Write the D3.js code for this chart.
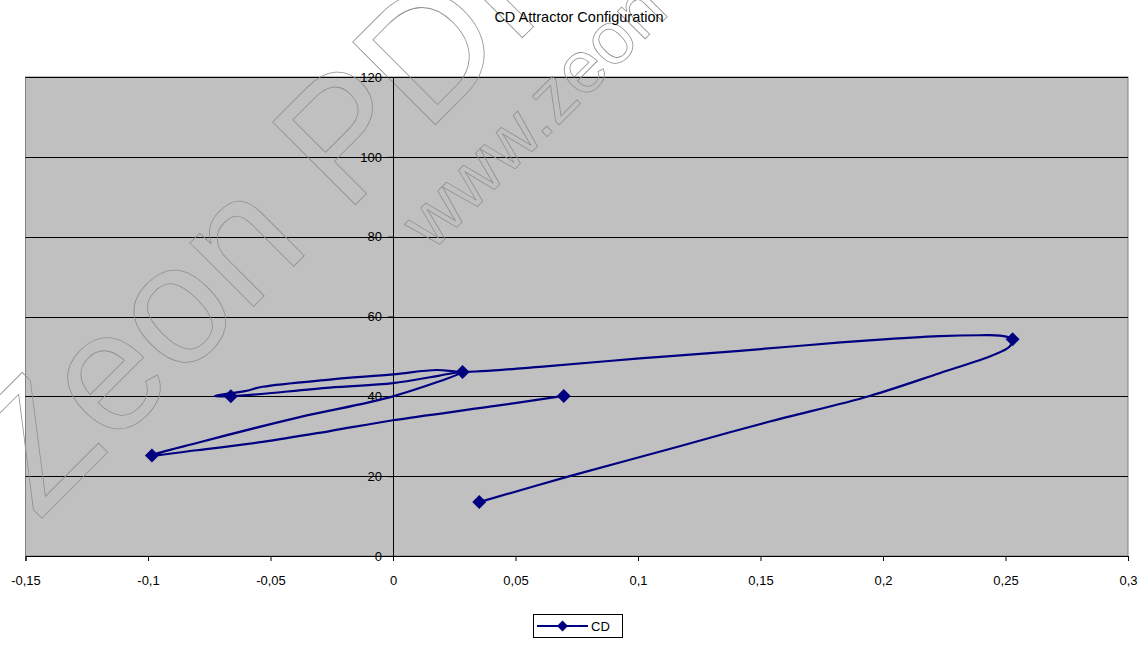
<!DOCTYPE html>
<html>
<head>
<meta charset="utf-8">
<script src="https://cdn.jsdelivr.net/npm/d3@7"></script>
<style>
  body { margin: 0; background: #fff; }
  svg text { font-family: "Liberation Sans", Arial, sans-serif; }
</style>
</head>
<body>
<div id="chart"></div>
<script>
// CD trajectory (x, y pairs in order)
var cdX = [0.0352, 0.0721, 0.117, 0.1538, 0.1946, 0.2231, 0.2448, 0.2517, 0.2529,
    0.2477, 0.2395, 0.2231, 0.1958, 0.1688, 0.1415, 0.1007, 0.0599, 0.0284,
    0.0178, 0.0, -0.0258, -0.0532, -0.0605, -0.0728, -0.0662,
    -0.0258, 0.0, 0.019, 0.0284,
    0.0, -0.0381, -0.0789, -0.0984,
    -0.0801, -0.0532, -0.0258, 0.0, 0.0395, 0.0697]
var cdY = [13.5, 20.0, 27.5, 33.7, 40.1, 45.8, 50.3, 52.5, 54.3,
    55.2, 55.3, 55.1, 54.1, 52.8, 51.4, 49.5, 47.4, 46.1,
    46.6, 45.5, 44.2, 42.4, 41.3, 40.1, 40.0,
    42.2, 43.3, 45.2, 46.1,
    40.0, 34.8, 28.5, 25.2,
    26.5, 28.6, 31.3, 34.0, 37.4, 40.1]

// points that carry a marker
var markerX = [0.0352, 0.2529, 0.0284, -0.0662, -0.0984, 0.0697]
var markerY = [13.5, 54.3, 46.1, 40.0, 25.2, 40.1]

var xTicks = [-0.15, -0.1, -0.05, 0, 0.05, 0.1, 0.15, 0.2, 0.25, 0.3]
var yTicks = [0, 20, 40, 60, 80, 100, 120]

var title = 'CD Attractor Configuration'
var seriesName = 'CD'

var width = 1148, height = 646
var plotLeft = 25.5, plotRight = 1128, plotTop = 77, plotBottom = 556
var navy = '#000080'

var svg = d3.select('#chart')
    .append('svg')
    .attr('width', width)
    .attr('height', height)

var x = d3.scaleLinear().domain([-0.15, 0.3]).range([plotLeft, plotRight])
var y = d3.scaleLinear().domain([0, 120]).range([plotBottom, plotTop])

// plot area
svg.append('rect')
    .attr('x', plotLeft)
    .attr('y', plotTop)
    .attr('width', plotRight - plotLeft)
    .attr('height', plotBottom - plotTop)
    .attr('fill', '#c0c0c0')
    .attr('stroke', '#808080')
    .attr('stroke-width', 1)

// horizontal gridlines
svg.append('g')
    .selectAll('line')
    .data(yTicks.filter(function(d) { return d > 0 }))
    .enter()
    .append('line')
    .attr('x1', plotLeft)
    .attr('x2', plotRight)
    .attr('y1', function(d) { return Math.round(y(d)) + 0.5 })
    .attr('y2', function(d) { return Math.round(y(d)) + 0.5 })
    .attr('stroke', '#000')
    .attr('stroke-width', 1)

// watermark (outlined text)
var wm = svg.append('g')
    .attr('fill', 'none')
    .attr('stroke', '#909090')
    .attr('stroke-width', 0.8)
wm.append('text')
    .attr('transform', 'translate(38,522) rotate(-45)')
    .style('font-size', '170px')
    .text('Zeon PDF')
wm.append('text')
    .attr('transform', 'translate(432,252) rotate(-45)')
    .style('font-size', '74px')
    .text('www.zeon')

var fmt = function(d) { return String(+d.toFixed(2)).replace('.', ',') }

// x axis along the bottom
var xAxis = svg.append('g')
    .attr('transform', 'translate(0,' + plotBottom + ')')
    .call(d3.axisBottom(x).tickValues(xTicks).tickFormat(fmt).tickSize(5).tickPadding(15))
xAxis.select('.domain').attr('stroke', '#000')
xAxis.selectAll('line').attr('stroke', '#000')
xAxis.selectAll('text').style('font-size', '13px').attr('fill', '#000')

// y axis crossing at x = 0
var yAxis = svg.append('g')
    .attr('transform', 'translate(' + x(0) + ',0)')
    .call(d3.axisLeft(y).tickValues(yTicks).tickSize(5).tickPadding(6))
yAxis.select('.domain').attr('stroke', '#000')
yAxis.selectAll('line').attr('stroke', '#000')
yAxis.selectAll('text').style('font-size', '13px').attr('fill', '#000')

// series line
var pts = cdX.map(function(d, i) { return [d, cdY[i]] })
var line = d3.line()
    .x(function(d) { return x(d[0]) })
    .y(function(d) { return y(d[1]) })
    .curve(d3.curveCatmullRom.alpha(0.5))

svg.append('path')
    .datum(pts)
    .attr('d', line)
    .attr('fill', 'none')
    .attr('stroke', navy)
    .attr('stroke-width', 2.2)
    .attr('stroke-linejoin', 'round')

var diamond = 'M0,-7L7,0L0,7L-7,0Z'

svg.append('g')
    .selectAll('path')
    .data(markerX)
    .enter()
    .append('path')
    .attr('d', diamond)
    .attr('transform', function(d, i) {
        return 'translate(' + x(d) + ',' + y(markerY[i]) + ')'
    })
    .attr('fill', navy)

// title
svg.append('text')
    .attr('x', 579)
    .attr('y', 17)
    .attr('text-anchor', 'middle')
    .attr('dominant-baseline', 'central')
    .style('font-size', '14.5px')
    .text(title)

// legend
var lg = svg.append('g').attr('transform', 'translate(533,614)')
lg.append('rect')
    .attr('x', 0.5)
    .attr('y', 0.5)
    .attr('width', 89)
    .attr('height', 23)
    .attr('fill', '#fff')
    .attr('stroke', '#000')
lg.append('line')
    .attr('x1', 4)
    .attr('x2', 55)
    .attr('y1', 12)
    .attr('y2', 12)
    .attr('stroke', navy)
    .attr('stroke-width', 2.2)
lg.append('path')
    .attr('d', 'M0,-5.5L5.5,0L0,5.5L-5.5,0Z')
    .attr('transform', 'translate(29.5,12)')
    .attr('fill', navy)
lg.append('text')
    .attr('x', 58)
    .attr('y', 12)
    .attr('dominant-baseline', 'central')
    .style('font-size', '13px')
    .text(seriesName)
</script>
</body>
</html>
